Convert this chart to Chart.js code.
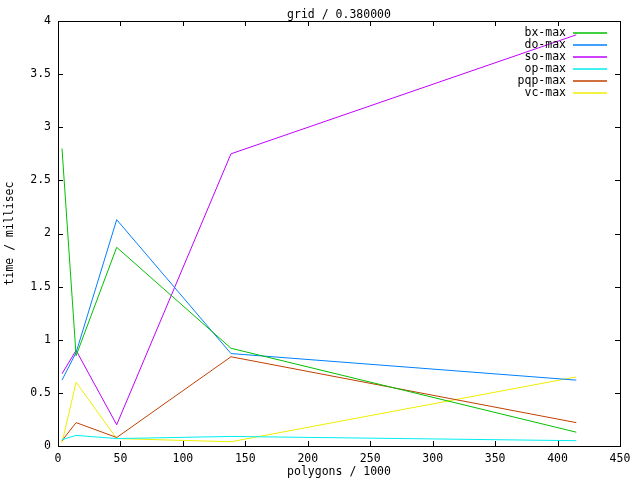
<!DOCTYPE html>
<html>
<head>
<meta charset="utf-8">
<script src="https://cdn.jsdelivr.net/npm/chart.js@4.4.0/dist/chart.umd.min.js"></script>
<style>
  html, body { margin: 0; padding: 0; background: #fff; }
  #c { display: block; }
</style>
</head>
<body>
<canvas id="c" width="640" height="480"></canvas>
<script>
// ── Data ──
var polygons = [3.2, 14.5, 47, 138.5, 415];
var bxMax  = [2.80, 0.85, 1.87, 0.92, 0.13];
var doMax  = [0.62, 0.88, 2.13, 0.87, 0.62];
var soMax  = [0.68, 0.90, 0.20, 2.75, 3.87];
var opMax  = [0.06, 0.10, 0.07, 0.09, 0.05];
var pqpMax = [0.05, 0.22, 0.08, 0.84, 0.22];
var vcMax  = [0.03, 0.60, 0.07, 0.04, 0.65];

var seriesNames  = ['bx-max', 'do-max', 'so-max', 'op-max', 'pqp-max', 'vc-max'];
var seriesValues = [bxMax, doMax, soMax, opMax, pqpMax, vcMax];
var seriesColors = ['#00c000', '#0080ff', '#c000ff', '#00eeee', '#c04000', '#eeee00'];

var titleText = 'grid / 0.380000';
var FONT = "'DejaVu Sans Mono', monospace";

function toPoints(vals) {
    return polygons.map(function (x, i) { return { x: x, y: vals[i] }; });
}

// ── Frame, inside ticks, title, legend (gnuplot look) ──
var gnuplotDecor = {
    id: 'gnuplotDecor',
    afterDraw: function (chart) {
        var ctx = chart.ctx;
        var a = chart.chartArea;
        var xs = chart.scales.x, ys = chart.scales.y;
        ctx.save();
        ctx.strokeStyle = '#000';
        ctx.lineWidth = 1;
        ctx.strokeRect(Math.round(a.left) + 0.5, Math.round(a.top) + 0.5,
            Math.round(a.right - a.left), Math.round(a.bottom - a.top));
        ctx.beginPath();
        xs.ticks.forEach(function (t) {
            var px = Math.round(xs.getPixelForValue(t.value)) + 0.5;
            ctx.moveTo(px, a.bottom); ctx.lineTo(px, a.bottom - 5);
            ctx.moveTo(px, a.top); ctx.lineTo(px, a.top + 5);
        });
        ys.ticks.forEach(function (t) {
            var py = Math.round(ys.getPixelForValue(t.value)) + 0.5;
            ctx.moveTo(a.left, py); ctx.lineTo(a.left + 5, py);
            ctx.moveTo(a.right, py); ctx.lineTo(a.right - 5, py);
        });
        ctx.stroke();

        // title
        ctx.fillStyle = '#000';
        ctx.font = '11.5px ' + FONT;
        ctx.textAlign = 'center';
        ctx.textBaseline = 'middle';
        ctx.fillText(titleText, (a.left + a.right) / 2, 15);

        // legend
        ctx.textAlign = 'right';
        seriesNames.forEach(function (name, i) {
            var y = 33 + i * 12;
            ctx.fillStyle = '#000';
            ctx.fillText(name, 566, y);
            ctx.strokeStyle = seriesColors[i];
            ctx.lineWidth = 1.5;
            ctx.beginPath();
            ctx.moveTo(573, Math.round(y));
            ctx.lineTo(607, Math.round(y));
            ctx.stroke();
        });
        ctx.restore();
    }
};

new Chart(document.getElementById('c'), {
    type: 'line',
    data: {
        datasets: seriesNames.map(function (name, i) {
            return {
                label: name,
                data: toPoints(seriesValues[i]),
                borderColor: seriesColors[i],
                backgroundColor: seriesColors[i],
                borderWidth: 1,
                pointRadius: 0,
                tension: 0,
                fill: false
            };
        })
    },
    options: {
        responsive: false,
        animation: false,
        layout: { padding: { top: 21, right: 20, left: 0, bottom: 0 } },
        plugins: {
            legend: { display: false },
            title: { display: false },
            tooltip: { enabled: false }
        },
        scales: {
            x: {
                type: 'linear',
                min: 0, max: 450,
                border: { display: false },
                grid: { display: false, drawTicks: false },
                ticks: { stepSize: 50, color: '#000', padding: 6, maxRotation: 0,
                         font: { family: FONT, size: 11.5 } },
                title: { display: true, text: 'polygons / 1000', color: '#000',
                         padding: { top: 0, bottom: 1 },
                         font: { family: FONT, size: 11.5 } },
                afterFit: function (s) { s.height = 34; }
            },
            y: {
                type: 'linear',
                min: 0, max: 4,
                border: { display: false },
                grid: { display: false, drawTicks: false },
                ticks: { stepSize: 0.5, color: '#000', padding: 7,
                         font: { family: FONT, size: 11.5 },
                         callback: function (v) { return String(Math.round(v * 10) / 10); } },
                title: { display: true, text: 'time / millisec', color: '#000',
                         padding: { top: 3, bottom: 0 },
                         font: { family: FONT, size: 11.5 } },
                afterFit: function (s) { s.width = 58; }
            }
        }
    },
    plugins: [gnuplotDecor]
});
</script>
</body>
</html>
